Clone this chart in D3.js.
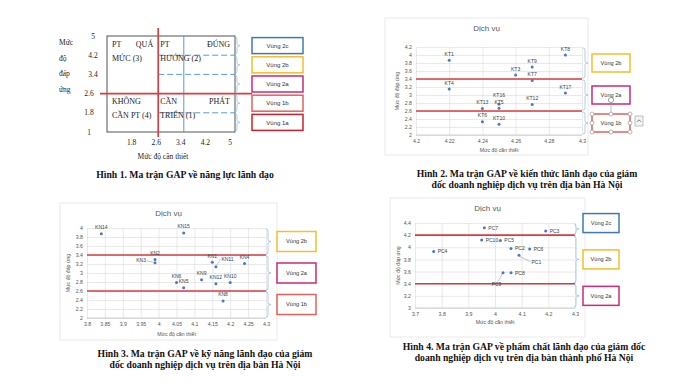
<!DOCTYPE html>
<html>
<head>
<meta charset="utf-8">
<script src="https://cdn.jsdelivr.net/npm/d3@7/dist/d3.min.js"></script>
<style>
  body { margin: 0; background: #fff; }
  svg text { font-family: "Liberation Sans", Arial, sans-serif; }
  .serif { font-family: "Liberation Serif", "Times New Roman", serif !important; }
  .cap { font-family: "Liberation Serif", "Times New Roman", serif !important; font-weight: bold; font-size: 9.7px; fill: #111; }
</style>
</head>
<body>
<svg id="chart" width="680" height="382"></svg>
<script>
// ---- Hình 1 ----
const h1Ticks = [1.8, 2.6, 3.4, 4.2, 5];
const h1YTicks = [5, 4.2, 3.4, 2.6, 1.8, 1];
const h1Dashed = [4.2, 3.4, 1.8];
const h1YTitle = ["Mức", "độ", "đáp", "ứng"];
const h1Zones = ["Vùng 2c", "Vùng 2b", "Vùng 2a", "Vùng 1b", "Vùng 1a"];
const h1Bounds = [5, 4.2, 3.4, 2.6, 1.8, 1];

// ---- Hình 2: kiến thức ----
const ktNames = ["KT1", "KT4", "KT13", "KT6", "KT16", "KT5", "KT10", "KT3", "KT9", "KT7", "KT12", "KT8", "KT17"];
const ktCanThiet = [4.22, 4.22, 4.24, 4.24, 4.25, 4.25, 4.25, 4.26, 4.27, 4.27, 4.27, 4.29, 4.29];
const ktDapUng = [3.87, 3.15, 2.66, 2.33, 2.77, 2.67, 2.27, 3.50, 3.70, 3.36, 2.76, 4.00, 3.05];
const ktXTicks = [4.2, 4.22, 4.24, 4.26, 4.28, 4.3];
const ktYTicks = [2, 2.2, 2.4, 2.6, 2.8, 3, 3.2, 3.4, 3.6, 3.8, 4, 4.2];
const ktRed = [3.4, 2.6];
const ktZones = ["Vùng 2b", "Vùng 2a", "Vùng 1b"];
const ktBounds = [4.2, 3.4, 2.6, 2];

// ---- Hình 3: kỹ năng ----
const knNames = ["KN14", "KN15", "KN2", "KN3", "KN6", "KN5", "KN9", "KN1", "KN11", "KN12", "KN10", "KN4", "KN8"];
const knCanThiet = [3.84, 4.07, 3.99, 3.99, 4.05, 4.07, 4.12, 4.15, 4.16, 4.16, 4.20, 4.24, 4.18];
const knDapUng = [3.87, 3.89, 3.30, 3.23, 2.79, 2.67, 2.85, 3.24, 3.14, 2.76, 2.79, 3.21, 2.38];
const knXTicks = [3.8, 3.85, 3.9, 3.95, 4, 4.05, 4.1, 4.15, 4.2, 4.25, 4.3];
const knYTicks = [2, 2.2, 2.4, 2.6, 2.8, 3, 3.2, 3.4, 3.6, 3.8, 4];
const knRed = [3.4, 2.6];
const knZones = ["Vùng 2b", "Vùng 2a", "Vùng 1b"];
const knBounds = [4, 3.4, 2.6, 2];

// ---- Hình 4: phẩm chất ----
const pcNames = ["PC7", "PC3", "PC10", "PC5", "PC4", "PC2", "PC6", "PC1", "PC9", "PC8"];
const pcCanThiet = [3.96, 4.19, 3.95, 4.02, 3.77, 4.06, 4.13, 4.09, 4.03, 4.06];
const pcDapUng = [4.32, 4.27, 4.12, 4.11, 3.93, 3.98, 3.97, 3.87, 3.58, 3.58];
const pcXTicks = [3.7, 3.8, 3.9, 4, 4.1, 4.2, 4.3];
const pcYTicks = [3, 3.2, 3.4, 3.6, 3.8, 4, 4.2, 4.4];
const pcRed = [4.2, 3.4];
const pcZones = ["Vùng 2c", "Vùng 2b", "Vùng 2a"];
const pcBounds = [4.4, 4.2, 3.4, 3];

const zoneColor = {
  "Vùng 2c": "#3f7ab5", "Vùng 2b": "#f3bf2c", "Vùng 2a": "#c92a78",
  "Vùng 1b": "#e0625d", "Vùng 1a": "#cc1f27"
};
const RED = "#dd3a3f", BRACE = "#9cc0e3", GRID = "#dadada", TXT = "#555";

const svg = d3.select("#chart");

// kieu nhan diem: dx, dy, anchor, duong dan (leader)
function labelSpec(kind) {
  switch (kind) {
    case "right": return { dx: 4, dy: 1.8, anchor: "start" };
    case "high": return { dx: 0, dy: -7.5, anchor: "middle" };
    case "left": return { dx: -9, dy: -0.5, anchor: "end", lead: [[-1.5, -0.4], [-8.5, -1.8]] };
    case "upright": return { dx: 5.5, dy: -6, anchor: "start", lead: [[0.8, -1.4], [4.5, -7.5]] };
    case "downright": return { dx: 12.5, dy: 8.5, anchor: "start", lead: [[1, 1.4], [11.5, 6.5]] };
    case "below": return { dx: -6.5, dy: 13, anchor: "middle", lead: [[-0.7, 1.3], [-5.3, 9]] };
    default: return { dx: 0, dy: -4.5, anchor: "middle" };
  }
}

// ngoac "}" va cac o vung ben phai
function drawZones(g, y, bounds, names, bx, boxX, boxW, boxH, fs, shift) {
  const boxes = [];
  names.forEach((n, i) => {
    const y0 = y(bounds[i]) + 1, y1 = y(bounds[i + 1]) - 1, ym = (y0 + y1) / 2;
    g.append("path")
      .attr("d", `M${bx - 2},${y0} Q${bx},${y0} ${bx},${y0 + 2} V${ym - 2} Q${bx},${ym} ${bx + 3},${ym} Q${bx},${ym} ${bx},${ym + 2} V${y1 - 2} Q${bx},${y1} ${bx - 2},${y1}`)
      .attr("fill", "none").attr("stroke", BRACE).attr("stroke-width", 0.8);
    const cy = ym + ((shift && shift[i]) || 0);
    const b = { x: boxX, y: cy - boxH / 2, w: boxW, h: boxH };
    boxes.push(b);
    g.append("rect").attr("x", b.x).attr("y", b.y).attr("width", b.w).attr("height", b.h)
      .attr("fill", "#fff").attr("stroke", zoneColor[n]).attr("stroke-width", 1.5);
    g.append("text").attr("x", b.x + b.w / 2).attr("y", cy + fs * 0.35)
      .attr("text-anchor", "middle").attr("font-size", fs).attr("fill", "#333").text(n);
  });
  return boxes;
}

function drawScatter(cfg) {
  const g = svg.append("g");
  const [bx0, by0, bx1, by1] = cfg.area;
  const [px0, py0, px1, py1] = cfg.plot;
  g.append("rect").attr("x", bx0).attr("y", by0).attr("width", bx1 - bx0).attr("height", by1 - by0)
    .attr("fill", "#fff").attr("stroke", "#e4e4e4").attr("stroke-width", 0.8);

  const x = d3.scaleLinear().domain(d3.extent(cfg.xTicks)).range([px0, px1]);
  const y = d3.scaleLinear().domain(d3.extent(cfg.yTicks)).range([py1, py0]);

  const ya = g.append("g").attr("transform", `translate(${px0},0)`)
    .call(d3.axisLeft(y).tickValues(cfg.yTicks).tickSize(-(px1 - px0)).tickPadding(4).tickFormat(d => d));
  const xa = g.append("g").attr("transform", `translate(0,${py1})`)
    .call(d3.axisBottom(x).tickValues(cfg.xTicks).tickSize(-(py1 - py0)).tickPadding(4).tickFormat(d => d));
  [ya, xa].forEach(a => {
    a.select(".domain").remove();
    a.selectAll("line").attr("stroke", GRID).attr("stroke-width", 0.6);
    a.selectAll("text").attr("font-size", 5.2).attr("fill", TXT);
  });
  g.append("line").attr("x1", px0).attr("x2", px1).attr("y1", py1).attr("y2", py1)
    .attr("stroke", "#bfbfbf").attr("stroke-width", 0.7);

  cfg.red.forEach(v => {
    g.append("line").attr("x1", px0).attr("x2", px1).attr("y1", y(v)).attr("y2", y(v))
      .attr("stroke", RED).attr("stroke-width", 1.6);
  });

  g.append("text").attr("x", (bx0 + bx1) / 2).attr("y", by0 + 13).attr("text-anchor", "middle")
    .attr("font-size", 8).attr("fill", "#595959").text("Dịch vụ");
  g.append("text").attr("x", (px0 + px1) / 2).attr("y", py1 + cfg.xTitleGap).attr("text-anchor", "middle")
    .attr("font-size", 5.2).attr("fill", TXT).text("Mức độ cần thiết");
  g.append("text").attr("transform", `translate(${px0 - cfg.yTitleGap},${(py0 + py1) / 2}) rotate(-90)`)
    .attr("text-anchor", "middle").attr("font-size", 5.2).attr("fill", TXT).text("Mức độ đáp ứng");

  const pts = cfg.names.map((n, i) => ({ n, cx: x(cfg.xs[i]), cy: y(cfg.ys[i]), s: labelSpec(cfg.place[i]) }));
  pts.filter(p => p.s.lead).forEach(p => {
    g.append("line").attr("x1", p.cx + p.s.lead[0][0]).attr("y1", p.cy + p.s.lead[0][1])
      .attr("x2", p.cx + p.s.lead[1][0]).attr("y2", p.cy + p.s.lead[1][1])
      .attr("stroke", "#8c8c8c").attr("stroke-width", 0.5);
  });
  g.selectAll(".pt").data(pts).join("circle")
    .attr("cx", d => d.cx).attr("cy", d => d.cy).attr("r", 1.5).attr("fill", "#4a78c2");
  g.selectAll(".lb").data(pts).join("text")
    .attr("x", d => d.cx + d.s.dx).attr("y", d => d.cy + d.s.dy)
    .attr("text-anchor", d => d.s.anchor).attr("font-size", 5).attr("fill", "#404040").text(d => d.n);

  const boxes = drawZones(g, y, cfg.bounds, cfg.zones, px1 + cfg.braceGap, cfg.boxX, cfg.boxW, cfg.boxH, 5.6, cfg.shift);
  return { g, boxes };
}

// ================= Hình 1 =================
(function () {
  const g = svg.append("g");
  const x = d3.scaleLinear().domain([1, 5]).range([107, 235]);
  const xl = d3.scaleLinear().domain([1, 5]).range([107, 230]);
  const y = d3.scaleLinear().domain([1, 5]).range([132, 36]);

  g.append("rect").attr("x", x(1)).attr("y", y(5)).attr("width", x(5) - x(1)).attr("height", y(1) - y(5))
    .attr("fill", "none").attr("stroke", "#555").attr("stroke-width", 1);

  h1Dashed.forEach(v => {
    g.append("line").attr("x1", x(2.6)).attr("x2", x(5)).attr("y1", y(v)).attr("y2", y(v))
      .attr("stroke", "#5b9bd5").attr("stroke-width", 1).attr("stroke-dasharray", "6,3");
  });
  g.append("line").attr("x1", x(3.4)).attr("x2", x(3.4)).attr("y1", y(5)).attr("y2", y(1))
    .attr("stroke", "#5b9bd5").attr("stroke-width", 1);
  g.append("line").attr("x1", x(2.6)).attr("x2", x(2.6)).attr("y1", y(5) - 8).attr("y2", y(1) + 5)
    .attr("stroke", RED).attr("stroke-width", 1.6);
  g.append("line").attr("x1", x(1) - 7).attr("x2", 252).attr("y1", y(2.6)).attr("y2", y(2.6))
    .attr("stroke", RED).attr("stroke-width", 1.6);

  const q = [
    [x(1) + 5, x(2.6) - 5, y(5) + 11, "PT", "QUÁ"],
    [x(1) + 5, null, y(5) + 25, "MỨC (3)"],
    [x(2.6) + 2, x(5) - 5, y(5) + 11, "PT", "ĐÚNG"],
    [x(2.6) + 2, null, y(5) + 25, "HƯỚNG (2)"],
    [x(1) + 5, null, y(2.6) + 10.5, "KHÔNG"],
    [x(1) + 5, null, y(2.6) + 24.5, "CẦN PT (4)"],
    [x(2.6) + 2, x(5) - 5, y(2.6) + 10.5, "CẦN", "PHÁT"],
    [x(2.6) + 2, null, y(2.6) + 24.5, "TRIỂN (1)"]
  ];
  q.forEach(r => {
    g.append("text").attr("class", "serif").attr("x", r[0]).attr("y", r[2]).attr("font-size", 8).attr("fill", "#222").text(r[3]);
    if (r[1]) g.append("text").attr("class", "serif").attr("x", r[1]).attr("y", r[2]).attr("text-anchor", "end")
      .attr("font-size", 8).attr("fill", "#222").text(r[4]);
  });

  h1YTicks.forEach(v => {
    g.append("text").attr("class", "serif").attr("x", v > 3 ? 93 : 89).attr("y", y(v) + 2.5)
      .attr("text-anchor", "middle").attr("font-size", 7.5).attr("fill", "#222").text(v);
  });
  h1Ticks.forEach(v => {
    g.append("text").attr("class", "serif").attr("x", xl(v)).attr("y", 145)
      .attr("text-anchor", "middle").attr("font-size", 7.5).attr("fill", "#222").text(v);
  });
  h1YTitle.forEach((w, i) => {
    g.append("text").attr("class", "serif").attr("x", 59).attr("y", 45 + i * 15.7)
      .attr("font-size", 7.5).attr("fill", "#222").text(w);
  });
  g.append("text").attr("class", "serif").attr("x", 163).attr("y", 159).attr("text-anchor", "middle")
    .attr("font-size", 7.5).attr("fill", "#222").text("Mức độ cần thiết");

  drawZones(g, y, h1Bounds, h1Zones, 237, 252, 51, 16, 6, null);
})();

// ================= Hình 2 =================
const p2 = drawScatter({
  area: [385, 18, 588, 155], plot: [416, 47, 582, 135],
  xTicks: ktXTicks, yTicks: ktYTicks, red: ktRed,
  names: ktNames, xs: ktCanThiet, ys: ktDapUng, place: ktNames.map(n => n === "KT16" ? "high" : "top"),
  zones: ktZones, bounds: ktBounds, braceGap: 3, boxX: 592, boxW: 38, boxH: 18,
  xTitleGap: 17, yTitleGap: 17
});
// khung chon cua o "Vùng 1b"
(function () {
  const b = p2.boxes[2];
  const hx = [b.x, b.x + b.w / 2, b.x + b.w], hy = [b.y, b.y + b.h / 2, b.y + b.h];
  p2.g.append("line").attr("x1", hx[1]).attr("x2", hx[1]).attr("y1", b.y).attr("y2", b.y - 10)
    .attr("stroke", "#999").attr("stroke-width", 0.6);
  p2.g.append("circle").attr("cx", hx[1]).attr("cy", b.y - 14).attr("r", 2.6)
    .attr("fill", "none").attr("stroke", "#888").attr("stroke-width", 0.8);
  hx.forEach((hxv, i) => hy.forEach((hyv, j) => {
    if (i === 1 && j === 1) return;
    p2.g.append("circle").attr("cx", hxv).attr("cy", hyv).attr("r", 2)
      .attr("fill", "#fff").attr("stroke", "#8a8a8a").attr("stroke-width", 0.6);
  }));
  p2.g.append("rect").attr("x", b.x + b.w + 5).attr("y", b.y + 2).attr("width", 8).attr("height", 10)
    .attr("fill", "#f4f4f4").attr("stroke", "#9a9a9a").attr("stroke-width", 0.6);
  p2.g.append("path").attr("d", `M${b.x + b.w + 7},${b.y + 8} Q${b.x + b.w + 9},${b.y + 4} ${b.x + b.w + 11},${b.y + 8}`)
    .attr("fill", "none").attr("stroke", "#666").attr("stroke-width", 0.7);
})();

// ================= Hình 3 =================
drawScatter({
  area: [60, 203, 277, 340], plot: [87, 228, 266, 318],
  xTicks: knXTicks, yTicks: knYTicks, red: knRed,
  names: knNames, xs: knCanThiet, ys: knDapUng,
  place: knNames.map(n => n === "KN3" ? "left" : n === "KN11" ? "upright" : "top"),
  zones: knZones, bounds: knBounds, braceGap: 2, boxX: 277, boxW: 39, boxH: 20,
  xTitleGap: 18, yTitleGap: 17
});

// ================= Hình 4 =================
drawScatter({
  area: [390, 198, 585, 337], plot: [415, 223, 575, 308],
  xTicks: pcXTicks, yTicks: pcYTicks, red: pcRed,
  names: pcNames, xs: pcCanThiet, ys: pcDapUng,
  place: pcNames.map(n => n === "PC1" ? "downright" : n === "PC9" ? "below" : "right"),
  zones: pcZones, bounds: pcBounds, braceGap: 1, boxX: 583, boxW: 36, boxH: 19,
  xTitleGap: 16, yTitleGap: 15, shift: [-6, 0, 0]
});

// ================= Chu thich =================
const captions = [
  { x: 185, y: 178, lines: ["Hình 1. Ma trận GAP về năng lực lãnh đạo"] },
  { x: 527, y: 177, lines: ["Hình 2. Ma trận GAP về kiến thức lãnh đạo của giám", "đốc doanh nghiệp dịch vụ trên địa bàn Hà Nội"] },
  { x: 205, y: 357, lines: ["Hình 3. Ma trận GAP về kỹ năng lãnh đạo của giám", "đốc doanh nghiệp dịch vụ trên địa bàn Hà Nội"] },
  { x: 524, y: 350, lines: ["Hình 4. Ma trận GAP về phẩm chất lãnh đạo của giám đốc", "doanh nghiệp dịch vụ trên địa bàn thành phố Hà Nội"] }
];
captions.forEach(c => {
  const t = svg.append("text").attr("class", "cap").attr("text-anchor", "middle");
  c.lines.forEach((l, i) => t.append("tspan").attr("x", c.x).attr("y", c.y + i * 11).text(l));
});
</script>
</body>
</html>
